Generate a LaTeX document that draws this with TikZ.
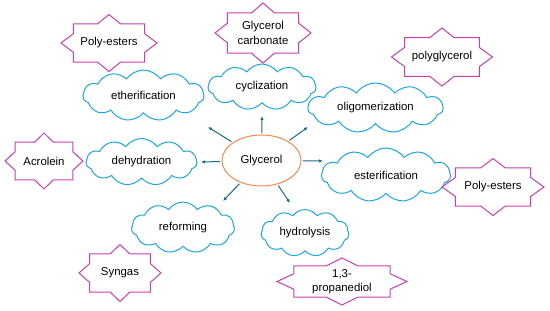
\documentclass[tikz,border=0pt]{standalone}
\usepackage{fontspec}
\setmainfont{Liberation Sans}
\usepackage{xcolor}
\definecolor{vizCloud}{HTML}{1FA5DE}
\definecolor{vizStar}{HTML}{C83FAE}
\definecolor{vizCore}{HTML}{F4894A}
\definecolor{vizArrow}{HTML}{1B6A8A}
\usetikzlibrary{shapes.symbols,shapes.geometric,arrows.meta}

\begin{document}
\begin{tikzpicture}[x=1pt, y=-1pt,
  every node/.style={font=\fontsize{11.4}{14.5}\selectfont, align=center},
  route/.style={cloud, draw=vizCloud, line width=1pt, cloud puffs=11, cloud puff arc=110, cloud ignores aspect, inner sep=0pt},
  product/.style={inner sep=0pt},
  starline/.style={draw=vizStar, line width=1pt, line join=miter},
  arr/.style={draw=vizArrow, line width=1pt, -{Latex[length=4pt,width=3.5pt]}, shorten <=1.5pt}]
  \useasboundingbox (0,0) rectangle (550,311);
  \node[ellipse, draw=vizCore, line width=1pt, minimum width=79pt, minimum height=51pt] (glyc) at (261.5,160.5) {Glycerol};
  \node[route, minimum width=108pt, minimum height=46pt] (cycl) at (262,87) {cyclization};
  \node[route, minimum width=121pt, minimum height=51pt] (ether) at (143.5,95.5) {etherification};
  \node[route, minimum width=135pt, minimum height=50pt] (olig) at (375.5,108) {oligomerization};
  \node[route, minimum width=111pt, minimum height=47pt] (dehyd) at (141.5,162) {dehydration};
  \node[route, minimum width=129pt, minimum height=54pt] (ester) at (386,175) {esterification};
  \node[route, minimum width=103pt, minimum height=51pt] (reform) at (183,227.5) {reforming};
  \node[route, minimum width=88pt, minimum height=47pt] (hydro) at (305,233) {hydrolysis};
  \node[product] (pe1) at (109,43) {Poly-esters};
  \node[product] (gcarb) at (263,33) {Glycerol\\carbonate};
  \node[product] (pglyc) at (442,57) {polyglycerol};
  \node[product] (acro) at (44,161) {Acrolein};
  \node[product] (syn) at (120,273) {Syngas};
  \node[product] (pe2) at (493,187) {Poly-esters};
  \node[product] (pdiol) at (342,281.5) {1,3-\\propanediol};
  % star outlines round the products
  \foreach \n/\a/\b in {pe1/48/28.5, gcarb/48/30, pglyc/50.5/29, acro/39/28, syn/41/28.5, pe2/51/28.5, pdiol/65/23.5}
    \draw[starline, shift={(\n.center)}, xscale=\a, yscale=\b]
      (1,0) -- (0.74,0.33) -- (0.74,0.67) -- (0.24,0.67) -- (0,1) -- (-0.24,0.67) -- (-0.74,0.67) -- (-0.74,0.33)
      -- (-1,0) -- (-0.74,-0.33) -- (-0.74,-0.67) -- (-0.24,-0.67) -- (0,-1) -- (0.24,-0.67) -- (0.74,-0.67) -- (0.74,-0.33) -- cycle;
  % arrow tips
  \coordinate (tC) at (262,116);
  \coordinate (tE) at (208,127);
  \coordinate (tO) at (308,127);
  \coordinate (tD) at (201,162);
  \coordinate (tS) at (323,161);
  \coordinate (tR) at (223,201);
  \coordinate (tH) at (290,203);
  \draw[arr] (glyc) -- (tC);
  \draw[arr] (glyc) -- (tE);
  \draw[arr] (glyc) -- (tO);
  \draw[arr] (glyc) -- (tD);
  \draw[arr] (glyc) -- (tS);
  \draw[arr] (glyc) -- (tR);
  \draw[arr] (glyc) -- (tH);
\end{tikzpicture}
\end{document}
